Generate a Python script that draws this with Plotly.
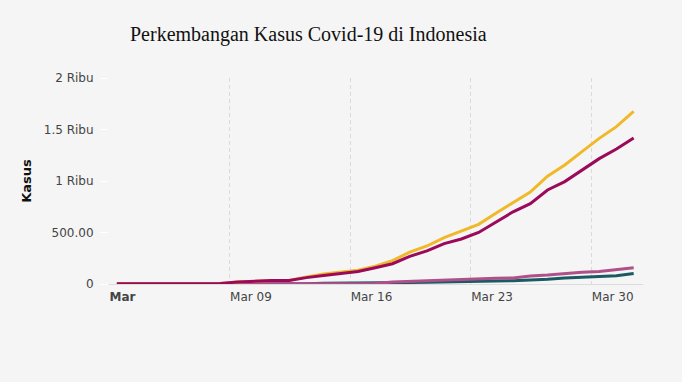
import plotly.graph_objects as go

dates = [
    "2020-03-02", "2020-03-03", "2020-03-04", "2020-03-05", "2020-03-06", "2020-03-07",
    "2020-03-08", "2020-03-09", "2020-03-10", "2020-03-11", "2020-03-12", "2020-03-13",
    "2020-03-14", "2020-03-15", "2020-03-16", "2020-03-17", "2020-03-18", "2020-03-19",
    "2020-03-20", "2020-03-21", "2020-03-22", "2020-03-23", "2020-03-24", "2020-03-25",
    "2020-03-26", "2020-03-27", "2020-03-28", "2020-03-29", "2020-03-30", "2020-03-31",
    "2020-04-01",
]
report_time = "11:00"

positif = [2, 2, 2, 2, 4, 4, 6, 19, 27, 34, 34, 69, 96, 117, 134, 172, 227, 309,
           369, 450, 514, 579, 686, 790, 893, 1046, 1155, 1285, 1414, 1528, 1677]
meninggal = [0, 0, 0, 0, 0, 0, 0, 0, 0, 1, 1, 4, 5, 5, 5, 5, 19, 25,
             32, 38, 48, 49, 55, 58, 78, 87, 102, 114, 122, 136, 157]
sembuh = [0, 0, 0, 0, 0, 0, 0, 0, 0, 0, 0, 3, 8, 8, 8, 9, 11, 15,
          16, 20, 29, 30, 30, 31, 35, 46, 59, 64, 75, 81, 103]
dirawat = [p - m - s for p, m, s in zip(positif, meninggal, sembuh)]

x_tick_vals = ["2020-03-02", "2020-03-09", "2020-03-16", "2020-03-23", "2020-03-30"]
x_tick_text = ["<b>Mar</b>", "Mar 09", "Mar 16", "Mar 23", "Mar 30"]
y_tick_vals = [0, 500, 1000, 1500, 2000]
y_tick_text = ["0", "500.00", "1 Ribu", "1.5 Ribu", "2 Ribu"]

xs = [d + " " + report_time for d in dates]

series = [
    ("Sembuh", sembuh, "#1a5a62"),
    ("Meninggal", meninggal, "#b0508a"),
    ("Positif", positif, "#f0b929"),
    ("Dirawat", dirawat, "#9b0a5a"),
]

fig = go.Figure()
for name, vals, color in series:
    fig.add_trace(go.Scatter(x=xs, y=vals, name=name, mode="lines",
                             line=dict(color=color, width=3)))

fig.update_layout(
    width=682, height=382,
    paper_bgcolor="#f5f5f5", plot_bgcolor="#f5f5f5",
    showlegend=False,
    margin=dict(l=109, r=39, t=78, b=98),
    title=dict(text="Perkembangan Kasus Covid-19 di Indonesia",
               x=130 / 682, xanchor="left", y=1 - 34 / 382, yanchor="middle",
               font=dict(family="Liberation Serif, Times New Roman, serif", size=20, color="#111")),
    font=dict(family="Verdana, DejaVu Sans, sans-serif", size=12, color="#444"),
)
fig.update_xaxes(
    type="date", range=["2020-03-02", "2020-04-02"],
    tickvals=x_tick_vals, ticktext=x_tick_text,
    ticklabelposition="outside right", ticklabelstandoff=2,
    showgrid=True, gridcolor="#dadada", griddash="4px,3px", gridwidth=1,
    showline=True, linecolor="#dcdcdc", linewidth=1,
    ticks="", zeroline=False,
    tickfont=dict(size=12, color="#444"),
)
fig.update_yaxes(
    range=[0, 2000],
    tickvals=y_tick_vals, ticktext=y_tick_text,
    showgrid=False, zeroline=False, showline=False,
    ticks="outside", ticklen=8, tickcolor="#ffffff",
    ticklabelstandoff=4,
    title=dict(text="<b>Kasus</b>", font=dict(size=13, color="#111"), standoff=9),
    tickfont=dict(size=12, color="#444"),
)

fig.write_html("out.html", config={"displayModeBar": False},
               post_script="document.body.style.margin='0';")
